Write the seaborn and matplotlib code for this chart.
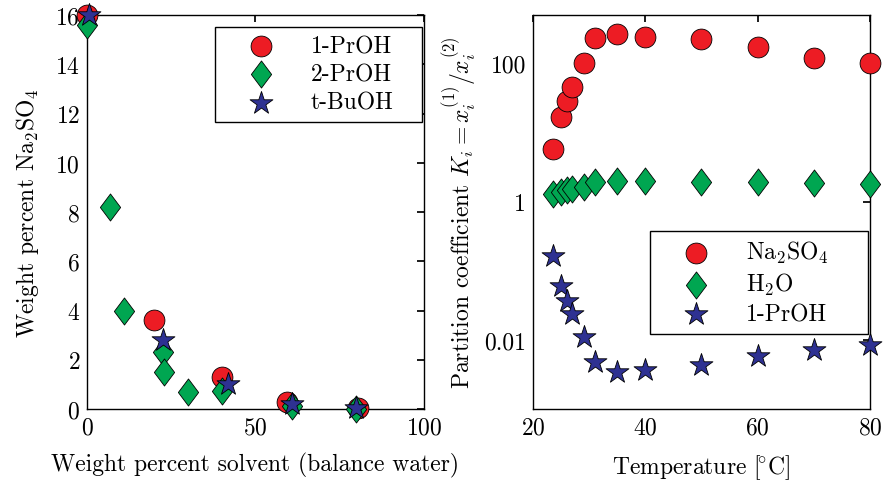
import numpy as np
import pandas as pd
import matplotlib
matplotlib.use("Agg")
import matplotlib.pyplot as plt
import matplotlib.path as mpath
import seaborn as sns

# Données - panneau gauche (pourcentage massique)
x_1proh = [0, 20, 40, 59.5, 80.5]
y_1proh = [16, 3.6, 1.3, 0.3, 0.05]
x_2proh = [0, 6.8, 11, 22.5, 23, 30, 40, 61, 80]
y_2proh = [15.6, 8.2, 4.0, 2.3, 1.5, 0.7, 0.75, 0.12, 0.0]
x_tbuoh = [0.5, 22.5, 41.8, 61, 80]
y_tbuoh = [16, 2.8, 1.0, 0.2, 0.05]

# Données - panneau droit (coefficients de partage)
temp = [23.5, 25, 26, 27, 29, 31, 35, 40, 50, 60, 70, 80]
k_na2so4 = [5.7, 17, 29, 45, 100, 230, 270, 240, 225, 175, 118, 102]
k_h2o = [1.3, 1.4, 1.45, 1.5, 1.65, 1.95, 2.0, 2.0, 1.95, 1.9, 1.85, 1.8]
k_proh = [0.165, 0.061, 0.037, 0.024, 0.011, 0.0048, 0.0034, 0.0037, 0.0043, 0.0059, 0.0072, 0.0085]

red, green, blue = "#ED1C24", "#00A651", "#2E3192"
diamond = mpath.Path([(0, 1), (0.75, 0), (0, -1), (-0.75, 0), (0, 1)], closed=True)
fs = 17

sns.set_theme(style="white")
plt.rcParams.update({
    "font.family": "cmr10",
    "mathtext.fontset": "cm",
    "axes.unicode_minus": False,
    "axes.formatter.use_mathtext": True,
    "font.size": fs,
    "axes.labelsize": fs,
    "xtick.labelsize": fs,
    "ytick.labelsize": fs,
    "legend.fontsize": fs,
    "axes.edgecolor": "black",
    "axes.linewidth": 1.0,
    "xtick.direction": "in",
    "ytick.direction": "in",
    "xtick.top": True,
    "ytick.right": True,
    "xtick.major.size": 5,
    "ytick.major.size": 5,
    "xtick.major.pad": 5,
    "ytick.major.pad": 5,
    "xtick.color": "black",
    "ytick.color": "black",
    "text.color": "black",
    "axes.labelcolor": "black",
})

fig = plt.figure(figsize=(8.84, 4.81), dpi=100)
ax1 = fig.add_axes([0.0984, 0.1476, 0.381, 0.819])
ax2 = fig.add_axes([0.603, 0.1476, 0.381, 0.819])

kw = dict(edgecolor="black", linewidth=0.6, clip_on=False, zorder=3)
leg_kw = dict(loc="upper left", mode="expand", fancybox=False, edgecolor="black",
              framealpha=1, handlelength=3.2, handletextpad=0.5, borderpad=0.35,
              labelspacing=0.26, borderaxespad=0)

# Panneau gauche
sns.scatterplot(x=x_1proh, y=y_1proh, ax=ax1, marker="o", s=225, color=red, label="1-PrOH", **kw)
sns.scatterplot(x=x_2proh, y=y_2proh, ax=ax1, marker=diamond, s=380, color=green, label="2-PrOH", **kw)
sns.scatterplot(x=x_tbuoh, y=y_tbuoh, ax=ax1, marker="*", s=300, color=blue, label="t-BuOH", **kw)
ax1.set_xlim(0, 100)
ax1.set_ylim(0, 16)
ax1.set_xticks([0, 50, 100])
ax1.set_yticks(np.arange(0, 17, 2))
ax1.set_xlabel("Weight percent solvent (balance water)", labelpad=10)
ax1.set_ylabel("Weight percent Na$_2$SO$_4$", labelpad=10)
leg1 = ax1.legend(bbox_to_anchor=(0.38, 0.731, 0.614, 0.239), **leg_kw)
leg1.get_frame().set_linewidth(1.0)

# Panneau droit
sns.scatterplot(x=temp, y=k_na2so4, ax=ax2, marker="o", s=225, color=red, label="Na$_2$SO$_4$", **kw)
sns.scatterplot(x=temp, y=k_h2o, ax=ax2, marker=diamond, s=380, color=green, label="H$_2$O", **kw)
sns.scatterplot(x=temp, y=k_proh, ax=ax2, marker="*", s=300, color=blue, label="1-PrOH", **kw)
ax2.set_yscale("log")
ax2.set_xlim(20, 80)
ax2.set_ylim(1e-3, 5e2)
ax2.set_xticks([20, 40, 60, 80])
ax2.set_yticks([1e-2, 1, 1e2])
ax2.set_yticklabels(["0.01", "1", "100"])
ax2.yaxis.set_minor_locator(matplotlib.ticker.NullLocator())
ax2.set_xlabel(r"Temperature [$\!^{\circ}$C]", labelpad=10)
ax2.set_ylabel("Partition coefficient $K_i = x_i^{(1)}/x_i^{(2)}$", labelpad=4)
leg2 = ax2.legend(bbox_to_anchor=(0.347, 0.213, 0.647, 0.239), **leg_kw)
leg2.get_frame().set_linewidth(1.0)

plt.savefig("out.png", dpi=100)
